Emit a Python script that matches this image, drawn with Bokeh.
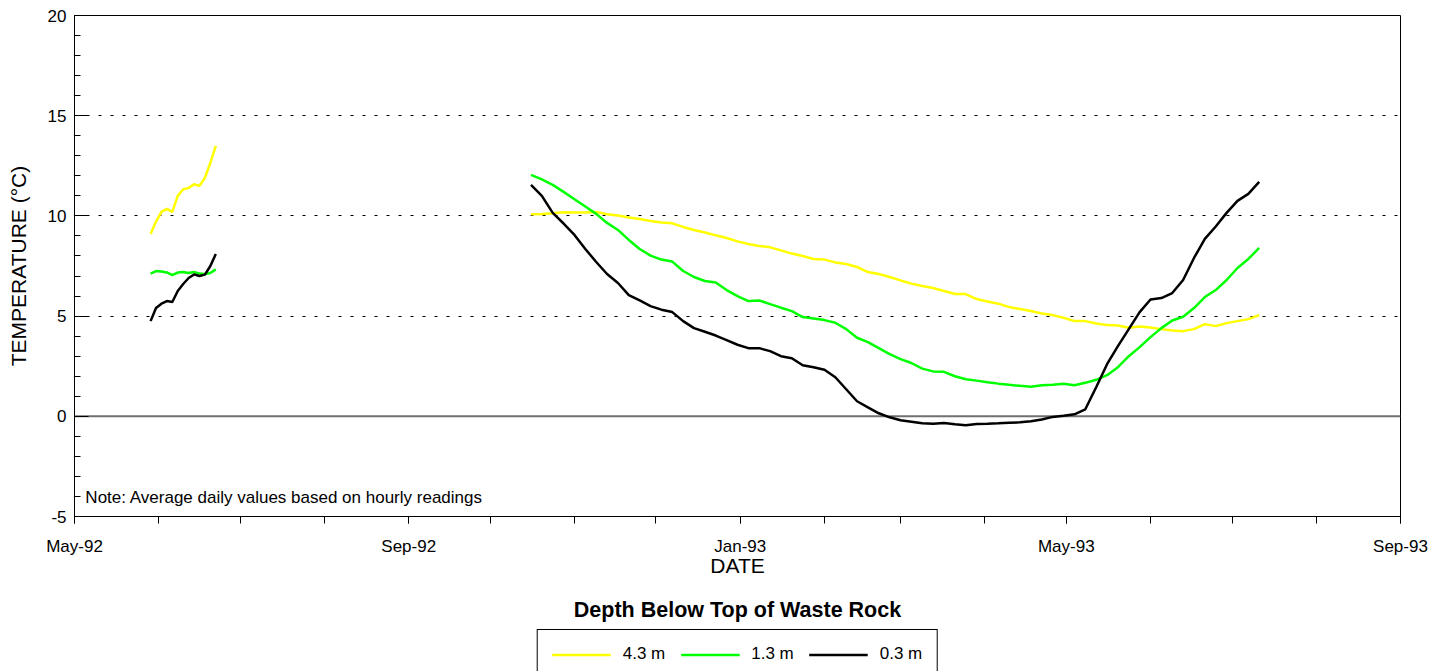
from datetime import datetime, timedelta
import numpy as np
from bokeh.plotting import figure
from bokeh.layouts import column
from bokeh.models import (ColumnDataSource, FixedTicker, DatetimeTickFormatter, Range1d,
                          Span, Label, Legend, LegendItem, DatetimeAxis)
from bokeh.embed import file_html
from bokeh.resources import INLINE

# ---------------- data (average daily temperatures, deg C) ----------------
# Segment 1: readings every 2 days starting 1992-05-29
seg1_start = "1992-05-29"
seg1_step = 2
seg1_43 = [9.1, 9.72, 10.2, 10.35, 10.2, 11.0, 11.33, 11.4, 11.58, 11.5, 11.9, 12.65, 13.5]
seg1_13 = [7.12, 7.25, 7.23, 7.18, 7.05, 7.17, 7.2, 7.15, 7.2, 7.12, 7.1, 7.15, 7.33]
seg1_03 = [4.75, 5.4, 5.62, 5.75, 5.7, 6.25, 6.6, 6.9, 7.08, 7.0, 7.07, 7.5, 8.1]

# Segment 2: readings every 4 days starting 1992-10-16
seg2_start = "1992-10-16"
seg2_step = 4
seg2_43 = [10.08, 10.10, 10.13, 10.18, 10.17, 10.17, 10.2, 10.08, 10.02, 9.92, 9.85, 9.75,
           9.67, 9.63, 9.45, 9.3, 9.17, 9.03, 8.9, 8.73, 8.6, 8.5, 8.43,
           8.28, 8.12, 8.0, 7.85, 7.82, 7.68, 7.6, 7.45, 7.2, 7.1, 6.95, 6.78, 6.62, 6.5,
           6.4, 6.25, 6.1, 6.1, 5.85, 5.73, 5.62, 5.45,
           5.35, 5.25, 5.13, 5.05, 4.92, 4.75, 4.75, 4.63, 4.55, 4.53, 4.42, 4.48, 4.43,
           4.35, 4.28, 4.25, 4.35, 4.6, 4.5, 4.65, 4.75, 4.85, 5.05]
seg2_13 = [12.05, 11.82, 11.55, 11.2, 10.83, 10.47, 10.1, 9.65, 9.3, 8.8, 8.35, 8.02,
           7.82, 7.72, 7.25, 6.95, 6.75, 6.68, 6.3, 6.0, 5.75, 5.78, 5.6,
           5.42, 5.25, 4.95, 4.88, 4.8, 4.67, 4.35, 3.92, 3.7, 3.4, 3.1, 2.85, 2.66, 2.38,
           2.24, 2.22, 2.0, 1.85, 1.78, 1.7, 1.63, 1.57,
           1.52, 1.48, 1.55, 1.58, 1.62, 1.55, 1.67, 1.82, 2.05, 2.45, 3.0, 3.45, 3.95,
           4.4, 4.78, 4.97, 5.4, 5.95, 6.3, 6.8, 7.4, 7.85, 8.4]
seg2_03 = [11.55, 11.0, 10.15, 9.62, 9.05, 8.35, 7.7, 7.1, 6.65, 6.05, 5.78, 5.5,
           5.32, 5.2, 4.75, 4.4, 4.22, 4.03, 3.8, 3.57, 3.4, 3.4, 3.25,
           3.0, 2.9, 2.55, 2.45, 2.32, 1.95, 1.35, 0.75, 0.45, 0.15, -0.05, -0.2, -0.27, -0.35,
           -0.37, -0.33, -0.4, -0.45, -0.38, -0.37, -0.35, -0.32,
           -0.3, -0.25, -0.16, -0.03, 0.03, 0.1, 0.35, 1.45, 2.6, 3.5, 4.35, 5.2, 5.83,
           5.9, 6.15, 6.8, 7.9, 8.85, 9.47, 10.15, 10.75, 11.1, 11.7]

series_labels = ["4.3 m", "1.3 m", "0.3 m"]
series_colors = ["#FFFF00", "#00FF00", "#000000"]

y_ticks = [-5, 0, 5, 10, 15, 20]
y_tick_labels = ["-5", "0", "5", "10", "15", "20"]
legend_title = "Depth Below Top of Waste Rock"
note_text = "Note: Average daily values based on hourly readings"

FONT = "Liberation Sans"


def date_seq(start, step, n):
    s = datetime.strptime(start, "%Y-%m-%d")
    return [s + timedelta(days=step * i) for i in range(n)]


d1 = date_seq(seg1_start, seg1_step, len(seg1_43))
d2 = date_seq(seg2_start, seg2_step, len(seg2_43))
gap = [d1[-1] + timedelta(days=10)]
xs = d1 + gap + d2

src = ColumnDataSource(dict(
    date=xs,
    t43=seg1_43 + [np.nan] + seg2_43,
    t13=seg1_13 + [np.nan] + seg2_13,
    t03=seg1_03 + [np.nan] + seg2_03,
))

x0 = datetime(1992, 5, 1)
x1 = datetime(1993, 9, 1)

p = figure(frame_width=1326, frame_height=501, x_axis_type="datetime",
           x_range=Range1d(x0, x1), y_range=Range1d(-5, 20),
           output_backend="svg", toolbar_location=None,
           min_border_left=74, min_border_right=38, min_border_top=15, min_border_bottom=110,
           background_fill_color="white", border_fill_color="white")

p.outline_line_color = "black"
p.outline_line_width = 1

# zero line
p.add_layout(Span(location=0, dimension="width", line_color="#707070", line_width=2, level="underlay"))

renderers = []
for col, c in zip(["t43", "t13", "t03"], series_colors):
    r = p.line("date", col, source=src, line_color=c, line_width=2.5)
    renderers.append(r)


def ms(d):
    return (d - datetime(1970, 1, 1)).total_seconds() * 1000.0


month_dates = []
y, m = 1992, 5
while (y, m) <= (1993, 9):
    month_dates.append(datetime(y, m, 1))
    m += 1
    if m > 12:
        m = 1
        y += 1
major_dates = month_dates[::4]

p.xaxis.ticker = FixedTicker(ticks=[ms(d) for d in major_dates],
                             minor_ticks=[ms(d) for d in month_dates])
fmt = "%b-%y"
p.xaxis.formatter = DatetimeTickFormatter(microseconds=fmt, milliseconds=fmt, seconds=fmt,
                                          minsec=fmt, minutes=fmt, hourmin=fmt, hours=fmt,
                                          days=fmt, months=fmt, years=fmt)
p.xaxis.major_tick_in = 0
p.xaxis.major_tick_out = 7
p.xaxis.minor_tick_in = 0
p.xaxis.minor_tick_out = 7
p.xaxis.major_label_standoff = 13
p.xaxis.axis_label = "DATE"
p.xaxis.axis_label_standoff = -5

p.yaxis.ticker = FixedTicker(ticks=y_ticks, minor_ticks=list(range(-5, 21)))
p.yaxis.major_label_overrides = {t: s for t, s in zip(y_ticks, y_tick_labels)}
p.yaxis.major_tick_in = 14
p.yaxis.major_tick_out = 0
p.yaxis.minor_tick_in = 6
p.yaxis.minor_tick_out = 0
p.yaxis.major_label_standoff = 8
p.yaxis.axis_label = "TEMPERATURE (\u00b0C)"
p.yaxis.axis_label_standoff = 15

for ax in (p.xaxis[0], p.yaxis[0]):
    ax.axis_line_color = "black"
    ax.major_tick_line_color = "black"
    ax.minor_tick_line_color = "black"
    ax.major_label_text_font = FONT
    ax.major_label_text_font_size = "17px"
    ax.major_label_text_color = "black"
    ax.axis_label_text_font = FONT
    ax.axis_label_text_font_size = "21px"
    ax.axis_label_text_font_style = "normal"
    ax.axis_label_text_color = "black"

p.xgrid.visible = False
p.ygrid.ticker = FixedTicker(ticks=[0, 5, 10, 15])
p.ygrid.grid_line_color = "black"
p.ygrid.grid_line_dash = "3 9"
p.ygrid.grid_line_width = 1

p.add_layout(Label(x=ms(datetime(1992, 5, 5)), y=-4.05, text=note_text,
                   text_font=FONT, text_font_size="17px", text_color="black",
                   text_baseline="alphabetic"))

# legend heading, drawn as the label of a bare (tick-less) axis below the date axis
title_axis = DatetimeAxis(ticker=FixedTicker(ticks=[]), axis_label=legend_title,
                          axis_line_color=None, major_tick_in=0, major_tick_out=0,
                          minor_tick_in=0, minor_tick_out=0, major_label_standoff=0,
                          axis_label_standoff=18, axis_label_text_font=FONT,
                          axis_label_text_font_size="21.5px", axis_label_text_font_style="bold",
                          axis_label_text_color="black")
p.add_layout(title_axis, "below")

# ---- legend strip below the chart (legend keys only; the sample lines lie off-frame) ----
lf = figure(frame_width=1326, height=45, output_backend="svg", toolbar_location=None,
            x_axis_location=None, y_axis_location=None,
            x_range=Range1d(0, 1), y_range=Range1d(0, 1),
            min_border_left=74, min_border_right=38, min_border_top=0, min_border_bottom=0,
            outline_line_color=None, background_fill_color="white", border_fill_color="white")
lf.xgrid.visible = False
lf.ygrid.visible = False
key_src = ColumnDataSource(dict(kx=[5.0, 6.0], ky=[5.0, 5.0]))
leg_renderers = []
for c in series_colors:
    leg_renderers.append(lf.line("kx", "ky", source=key_src, line_color=c, line_width=2.5))

legend = Legend(items=[LegendItem(label=l, renderers=[r]) for l, r in zip(series_labels, leg_renderers)],
                orientation="horizontal", location="top_center",
                glyph_width=59, glyph_height=17, label_height=17, label_standoff=12,
                spacing=15, padding=14, margin=3,
                border_line_color="black", border_line_width=1, border_line_alpha=1.0,
                label_text_font=FONT, label_text_font_size="17px", label_text_color="black",
                background_fill_alpha=1.0)
lf.add_layout(legend, "center")

layout = column(p, lf, spacing=0)
open("out.html", "w").write(file_html(layout, INLINE))
